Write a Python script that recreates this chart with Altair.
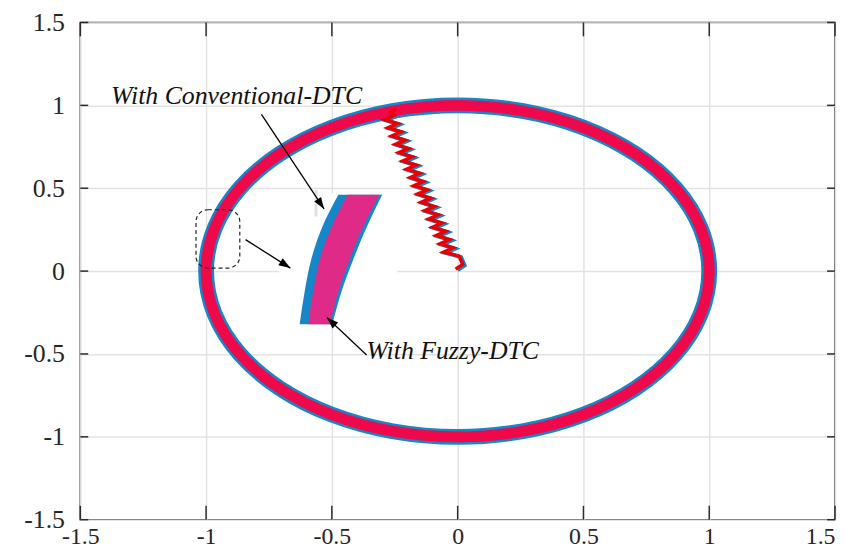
import altair as alt
import pandas as pd

# ---------------- data ----------------
tick_values = [-1.5, -1.0, -0.5, 0.0, 0.5, 1.0, 1.5]

# stator flux circle (points read every 15 degrees)
ring_x = [1.000, 0.966, 0.866, 0.707, 0.500, 0.259, 0.000, -0.259, -0.500, -0.707, -0.866, -0.966,
          -1.000, -0.966, -0.866, -0.707, -0.500, -0.259, 0.000, 0.259, 0.500, 0.707, 0.866, 0.966]
ring_y = [0.000, 0.259, 0.500, 0.707, 0.866, 0.966, 1.000, 0.966, 0.866, 0.707, 0.500, 0.259,
          0.000, -0.259, -0.500, -0.707, -0.866, -0.966, -1.000, -0.966, -0.866, -0.707, -0.500, -0.259]

# start-up trajectory (zig-zag from origin to the circle)
start_x = [-0.008, 0.020, 0.006, -0.055, -0.018, -0.070, -0.032, -0.085, -0.047, -0.100, -0.062,
           -0.115, -0.077, -0.130, -0.092, -0.145, -0.107, -0.159, -0.121, -0.174, -0.136, -0.188,
           -0.150, -0.203, -0.165, -0.218, -0.180, -0.233, -0.195, -0.247, -0.209, -0.262, -0.224,
           -0.277, -0.238, -0.292, -0.253, -0.266, -0.245]
start_y = [0.012, 0.040, 0.090, 0.115, 0.140, 0.165, 0.190, 0.215, 0.240, 0.265, 0.290,
           0.315, 0.340, 0.365, 0.390, 0.415, 0.440, 0.465, 0.490, 0.515, 0.540, 0.565,
           0.590, 0.615, 0.640, 0.665, 0.690, 0.715, 0.740, 0.765, 0.790, 0.815, 0.840,
           0.865, 0.890, 0.915, 0.940, 0.960, 0.975]

# zoomed inset of the arc
inset_y = [-0.32, -0.13, 0.07, 0.27, 0.46]
inset_conv_left = [-0.628, -0.609, -0.582, -0.537, -0.474]
inset_conv_right = [-0.498, -0.463, -0.415, -0.360, -0.300]
inset_fuzzy_left = [-0.594, -0.575, -0.548, -0.500, -0.437]
inset_fuzzy_right = [-0.508, -0.476, -0.430, -0.375, -0.311]
inset_box_x = [-0.71, -0.24]
inset_box_y = [-0.33, 0.47]
inset_edge_x = [-0.563]
inset_edge_y = [0.33, 0.49]

# dashed zoom region
zoom_box_x = [-1.04, -0.866]
zoom_box_y = [0.018, 0.37]

# arrows
arrow_x1 = [-0.843, -0.780, -0.362]
arrow_y1 = [0.190, 0.946, -0.506]
arrow_x2 = [-0.665, -0.531, -0.520]
arrow_y2 = [0.018, 0.375, -0.280]
arrow_angle = [122.8, 146.7, 313.5]

labels = ["With Conventional-DTC", "With Fuzzy-DTC"]
label_x = [-1.378, -0.362]
label_y = [1.006, -0.530]

# ---------------- styling ----------------
W, H = 762, 502
FONT = "Liberation Serif"
BLUE = "#1686C8"
RING_RED = "#F0094A"
TRAJ_RED = "#E80000"
MAGENTA = "#E02A87"
AXIS_COLOR = "#2b2b2b"

xscale = alt.Scale(domain=[-1.5, 1.5], nice=False, zero=False)
yscale = alt.Scale(domain=[-1.5, 1.5], nice=False, zero=False)

axis_x = alt.Axis(values=tick_values, title=None, grid=True, gridColor="#e3e3e3", gridWidth=1.5,
                  domain=False, ticks=False, labelFont=FONT, labelFontSize=24,
                  labelColor="#262626", labelPadding=5, labelExpr="toString(datum.value)",
                  labelAlign=alt.ExprRef(expr="datum.value == 1.5 ? 'right' : 'center'"),
                  labelOverlap=False)
axis_y = alt.Axis(values=tick_values, title=None, grid=True, gridColor="#e3e3e3", gridWidth=1.5,
                  domain=False, ticks=False, labelFont=FONT, labelFontSize=26,
                  labelColor="#262626", labelPadding=16, labelExpr="toString(datum.value)",
                  labelOverlap=False)


def X(f, **kw):
    return alt.X(f"{f}:Q", scale=xscale, axis=axis_x, **kw)


def Y(f, **kw):
    return alt.Y(f"{f}:Q", scale=yscale, axis=axis_y, **kw)


ring_df = pd.DataFrame({"x": ring_x, "y": ring_y, "i": range(len(ring_x))})
start_df = pd.DataFrame({"x": start_x, "y": start_y, "i": range(len(start_x))})
inset_conv = pd.DataFrame({"y": inset_y, "xl": inset_conv_left, "xr": inset_conv_right})
inset_fuzzy = pd.DataFrame({"y": inset_y, "xl": inset_fuzzy_left, "xr": inset_fuzzy_right})
inset_box = pd.DataFrame({"x": [inset_box_x[0]], "x2": [inset_box_x[1]],
                          "y": [inset_box_y[0]], "y2": [inset_box_y[1]]})
inset_edge = pd.DataFrame({"x": inset_edge_x, "y": [inset_edge_y[0]], "y2": [inset_edge_y[1]]})
zoom_box = pd.DataFrame({"x": [zoom_box_x[0]], "x2": [zoom_box_x[1]],
                         "y": [zoom_box_y[0]], "y2": [zoom_box_y[1]]})
arrows = pd.DataFrame({"x": arrow_x1, "y": arrow_y1, "x2": arrow_x2, "y2": arrow_y2,
                       "angle": arrow_angle})
text_df = pd.DataFrame({"label": labels, "x": label_x, "y": label_y})
tick_df = pd.DataFrame({"v": tick_values})

# ---------------- layers ----------------
ring_blue = alt.Chart(ring_df).mark_line(
    interpolate="cardinal-closed", color=BLUE, strokeWidth=16
).encode(x=X("x"), y=Y("y"), order=alt.Order("i:Q"))

start_blue = alt.Chart(start_df).mark_line(
    color=BLUE, strokeWidth=4, xOffset=2, yOffset=1, strokeJoin="miter"
).encode(x=X("x"), y=Y("y"), order=alt.Order("i:Q"))

ring_red = alt.Chart(ring_df).mark_line(
    interpolate="cardinal-closed", color=RING_RED, strokeWidth=11
).encode(x=X("x"), y=Y("y"), order=alt.Order("i:Q"))

start_red = alt.Chart(start_df).mark_line(
    color=TRAJ_RED, strokeWidth=3.5, strokeJoin="miter"
).encode(x=X("x"), y=Y("y"), order=alt.Order("i:Q"))

inset_bg = alt.Chart(inset_box).mark_rect(color="white").encode(
    x=X("x"), x2="x2", y=Y("y"), y2="y2")

inset_edge_rule = alt.Chart(inset_edge).mark_rule(color="#e0e0e0", strokeWidth=3).encode(
    x=X("x"), y=Y("y"), y2="y2")

inset_blue = alt.Chart(inset_conv).mark_area(orient="horizontal", color=BLUE,
                                             interpolate="monotone").encode(
    y=Y("y"), x=X("xl"), x2="xr")

inset_mag = alt.Chart(inset_fuzzy).mark_area(orient="horizontal", color=MAGENTA,
                                             interpolate="monotone").encode(
    y=Y("y"), x=X("xl"), x2="xr")

zoom_rect = alt.Chart(zoom_box).mark_rect(
    fillOpacity=0, stroke="#222222", strokeWidth=1.2, strokeDash=[4, 3], cornerRadius=12
).encode(x=X("x"), x2="x2", y=Y("y"), y2="y2")

arrow_lines = alt.Chart(arrows).mark_rule(color="black", strokeWidth=1.3).encode(
    x=X("x"), y=Y("y"), x2="x2", y2="y2")

arrow_heads = alt.Chart(arrows).mark_point(
    shape="M0,0 L-0.45,1.3 L0.45,1.3 Z", filled=True, size=330, color="black", opacity=1
).encode(x=X("x2"), y=Y("y2"), angle=alt.Angle("angle:Q", scale=None))

texts = alt.Chart(text_df).mark_text(
    font=FONT, fontSize=26, fontStyle="italic", align="left", baseline="alphabetic",
    color="#111111"
).encode(x=X("x"), y=Y("y"), text="label:N")

tick_style = dict(color=AXIS_COLOR, strokeWidth=1.5)
ticks_bottom = alt.Chart(tick_df).mark_rule(**tick_style).encode(
    x=X("v"), y=alt.value(H), y2=alt.value(H - 14))
ticks_top = alt.Chart(tick_df).mark_rule(**tick_style).encode(
    x=X("v"), y=alt.value(0), y2=alt.value(14))
ticks_left = alt.Chart(tick_df).mark_rule(**tick_style).encode(
    y=Y("v"), x=alt.value(0), x2=alt.value(8))
ticks_right = alt.Chart(tick_df).mark_rule(**tick_style).encode(
    y=Y("v"), x=alt.value(W), x2=alt.value(W - 8))

chart = alt.layer(
    ring_blue, start_blue, ring_red, start_red,
    inset_bg, inset_edge_rule, inset_blue, inset_mag,
    zoom_rect, arrow_lines, arrow_heads, texts,
    ticks_bottom, ticks_top, ticks_left, ticks_right,
).properties(
    width=W, height=H,
    autosize=alt.AutoSizeParams(type="none"),
    padding={"left": 73, "top": 12, "right": 2, "bottom": 31},
    background="white",
).configure_view(stroke=AXIS_COLOR, strokeWidth=1.5)

chart.save("out.html", embed_options={"renderer": "svg", "actions": False})
